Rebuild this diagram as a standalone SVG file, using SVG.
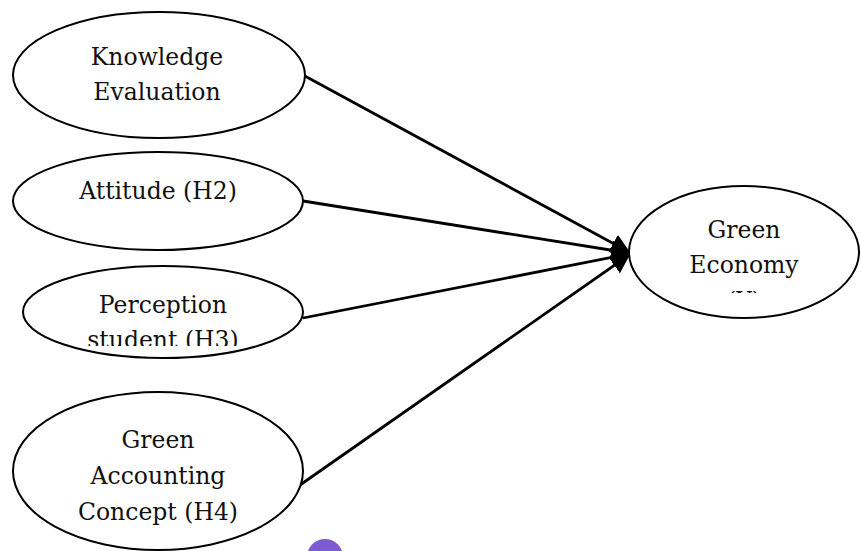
<svg xmlns="http://www.w3.org/2000/svg" width="861" height="551" viewBox="0 0 861 551">
<style>
.node ellipse{fill:#fff;stroke:#000;stroke-width:2}
.lbl{font-family:"DejaVu Serif","Liberation Serif",serif;font-size:23.5px;fill:#111;text-anchor:middle}
.edge{stroke:#000;stroke-width:2.8;fill:none;marker-end:url(#ah)}
</style>
<defs>
<marker id="ah" viewBox="0 0 12 12" refX="11" refY="6" markerWidth="7" markerHeight="7" orient="auto" markerUnits="strokeWidth">
<path d="M0,0 L12,6 L0,12 z" fill="#000"/>
</marker>
<clipPath id="c3"><rect x="0" y="260" width="320" height="86"/></clipPath>
<clipPath id="c5"><rect x="620" y="180" width="241" height="113"/></clipPath>
</defs>
<rect width="861" height="551" fill="#fff"/>
<g id="edges">
<line class="edge" x1="303" y1="75" x2="629" y2="252"/>
<line class="edge" x1="303" y1="201" x2="629" y2="253"/>
<line class="edge" x1="303" y1="318" x2="629" y2="254"/>
<line class="edge" x1="300" y1="485" x2="629" y2="255"/>
</g>
<g id="knowledge" class="node">
<ellipse cx="159" cy="75" rx="146" ry="63"/>
<text class="lbl" x="157" y="65">Knowledge</text>
<text class="lbl" x="157" y="100">Evaluation</text>
</g>
<g id="attitude" class="node">
<ellipse cx="158" cy="201" rx="145" ry="49"/>
<text class="lbl" x="158" y="199">Attitude (H2)</text>
</g>
<g id="perception" class="node">
<ellipse cx="163" cy="312" rx="140" ry="46"/>
<g clip-path="url(#c3)">
<text class="lbl" x="163" y="313">Perception</text>
<text class="lbl" x="163" y="348">student (H3)</text>
</g>
</g>
<g id="greenaccounting" class="node">
<ellipse cx="158" cy="471" rx="145" ry="79"/>
<text class="lbl" x="158" y="448">Green</text>
<text class="lbl" x="158" y="484">Accounting</text>
<text class="lbl" x="158" y="520">Concept (H4)</text>
</g>
<g id="greeneconomy" class="node">
<ellipse cx="744" cy="252" rx="115" ry="66"/>
<g clip-path="url(#c5)">
<text class="lbl" x="744" y="238">Green</text>
<text class="lbl" x="744" y="273">Economy</text>
<text class="lbl" x="744" y="309">(Y)</text>
</g>
</g>
<circle cx="325" cy="557" r="18" fill="#7e5bd2"/>
</svg>
